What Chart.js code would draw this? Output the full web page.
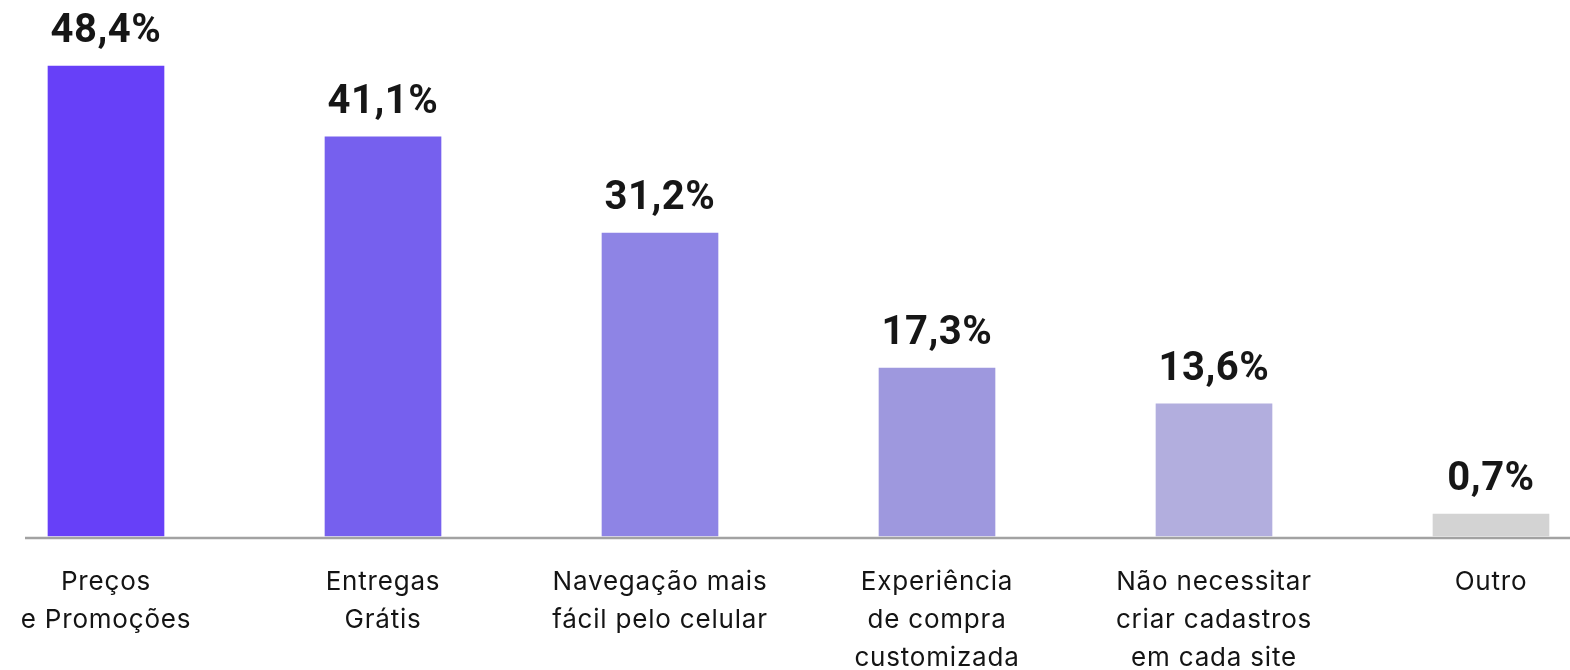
<!DOCTYPE html>
<html>
<head>
<meta charset="utf-8">
<script src="https://cdn.jsdelivr.net/npm/chart.js@4"></script>
<style>
  html, body { margin: 0; padding: 0; background: #ffffff; }
  #wrap { width: 1570px; height: 670px; position: relative; }
</style>
</head>
<body>
<div id="wrap"><canvas id="chart"></canvas></div>
<script>
// Categories (multi-line labels), shares in percent, and bar colours
const categories = [
  ['Preços', 'e Promoções'],
  ['Entregas', 'Grátis'],
  ['Navegação mais', 'fácil pelo celular'],
  ['Experiência', 'de compra', 'customizada'],
  ['Não necessitar', 'criar cadastros', 'em cada site'],
  ['Outro']
];
const shares = [48.4, 41.1, 31.2, 17.3, 13.6, 0.7];
const barColors = ['#6740F8', '#7660EE', '#8E84E5', '#9E98DE', '#B2AEDE', '#D3D3D3'];

const fmt = v => v.toFixed(1).replace('.', ',') + '%';

// Slightly wider letter spacing for all canvas text
const spacing = {
  id: 'spacing',
  beforeInit(chart) { chart.ctx.letterSpacing = '0.8px'; },
  beforeUpdate(chart) { chart.ctx.letterSpacing = '0.8px'; },
  beforeDraw(chart) { chart.ctx.letterSpacing = '0.8px'; }
};

// Grey baseline running under the bars
const baselinePlugin = {
  id: 'baseline',
  afterDatasetsDraw(chart) {
    const ctx = chart.ctx;
    const y = chart.scales.y.getPixelForValue(0) + 2;
    ctx.save();
    ctx.strokeStyle = '#a2a2a2';
    ctx.lineWidth = 2.5;
    ctx.beginPath();
    ctx.moveTo(25, y);
    ctx.lineTo(chart.width, y);
    ctx.stroke();
    ctx.restore();
  }
};

// Bold value labels above each bar
const valueLabels = {
  id: 'valueLabels',
  afterDatasetsDraw(chart) {
    const ctx = chart.ctx;
    const meta = chart.getDatasetMeta(0);
    const data = chart.data.datasets[0].data;
    ctx.save();
    ctx.font = 'bold 40px Roboto';
    ctx.letterSpacing = '0.5px';
    ctx.fillStyle = '#161616';
    ctx.textAlign = 'center';
    ctx.textBaseline = 'alphabetic';
    meta.data.forEach((bar, i) => {
      ctx.fillText(fmt(data[i]), bar.x, bar.y - 24);
    });
    ctx.restore();
  }
};

new Chart(document.getElementById('chart'), {
  type: 'bar',
  data: {
    labels: categories,
    datasets: [{
      data: shares,
      backgroundColor: barColors,
      borderWidth: 0,
      barThickness: 116,
      minBarLength: 22,
      clip: false
    }]
  },
  options: {
    responsive: true,
    maintainAspectRatio: false,
    animation: false,
    layout: { padding: { top: 0, left: 106, right: 79, bottom: 0 } },
    plugins: { legend: { display: false }, tooltip: { enabled: false } },
    scales: {
      x: {
        offset: false,
        grid: { display: false, drawTicks: false },
        border: { display: false },
        ticks: {
          color: '#141414',
          font: { family: 'Inter', size: 26, lineHeight: '38px' },
          padding: 27,
          maxRotation: 0,
          autoSkip: false
        },
        afterFit(scale) {
          scale.paddingLeft = 0;
          scale.paddingRight = 0;
          scale.height = 134;
        }
      },
      y: {
        display: false,
        min: 0,
        max: 55.2
      }
    }
  },
  plugins: [spacing, baselinePlugin, valueLabels]
});
</script>
</body>
</html>
